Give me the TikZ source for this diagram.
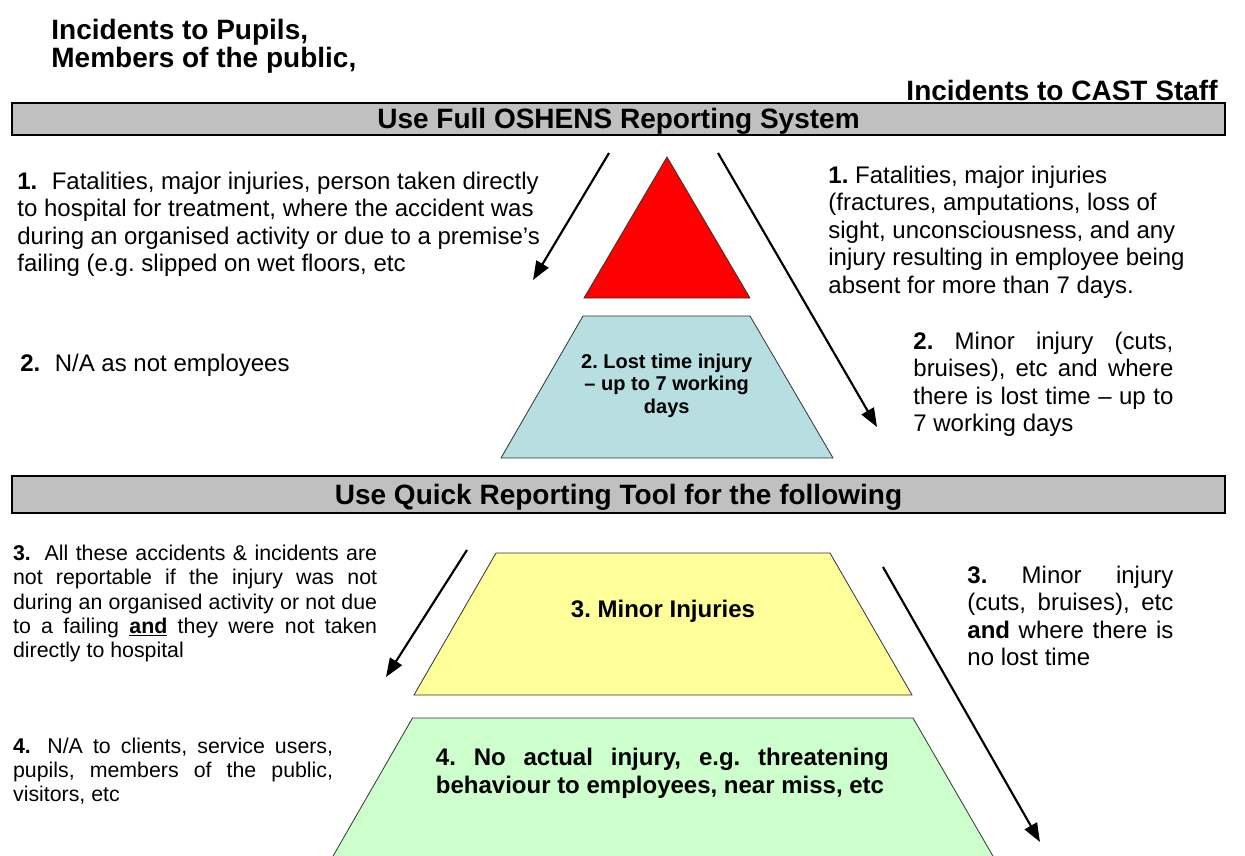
\documentclass[tikz,border=0pt]{standalone}
\usepackage{fontspec}
\setmainfont{Liberation Sans}
\usetikzlibrary{arrows.meta}
\definecolor{barGray}{HTML}{C0C0C0}
\definecolor{topRed}{HTML}{FF0000}
\definecolor{lostBlue}{HTML}{B7DEE1}
\definecolor{minorYellow}{HTML}{FFFF99}
\definecolor{nearGreen}{HTML}{CCFFCC}
\frenchspacing
\newcommand{\fullrow}[1]{\makebox[\hsize][s]{#1}}

\begin{document}
\begin{tikzpicture}[
	>={Triangle[length=14pt,width=10.5pt]},
	line width=0.6pt,
	x=0.75pt,y=-0.75pt,
	txt/.style={anchor=base west, inner sep=0pt, align=justify},
	big/.style={font=\fontsize{18}{20.7}\selectfont},
	small/.style={font=\fontsize{16}{18.2}\selectfont},
	head/.style={inner sep=0pt, font=\bfseries\fontsize{21}{20.5}\selectfont},
	bar/.style={fill=barGray, draw=black, line width=1.5pt},
	level/.style={draw=black!80, line width=0.6pt},
	pointer/.style={->, line width=1.6pt}
	]
\useasboundingbox (0,0) rectangle (1245,856);

% headings
\node[head, anchor=base west, text width=315pt, align=justify] (pupils) at (51,40)
	{Incidents to Pupils,\\Members of the public,};
\node[head, anchor=base east] (staff) at (1218,100) {Incidents to CAST Staff};

% bars
\draw[bar] (12,103) rectangle (1225,135);
\node[head, anchor=base] (oshens) at (618.5,128.5) {Use Full OSHENS Reporting System};
\draw[bar] (12,476) rectangle (1225,513);
\node[head, anchor=base] (quick) at (618.5,504) {Use Quick Reporting Tool for the following};

% pyramid levels
\filldraw[level, fill=topRed] (667,157) -- (750,298) -- (584,298) -- cycle;
\filldraw[level, fill=lostBlue] (583,316) -- (750,316) -- (833,458) -- (501,458) -- cycle;
\filldraw[level, fill=minorYellow] (496,553) -- (830,553) -- (912,695) -- (414,695) -- cycle;
\filldraw[level, fill=nearGreen] (412.5,718) -- (913,718) -- (1001,870) -- (325,870) -- cycle;

\node[anchor=base, inner sep=0pt, text width=150pt, align=justify,
	font=\bfseries\fontsize{15}{16.9}\selectfont] (lost) at (666.7,368.3)
	{\centering 2. Lost time injury\\ – up to 7 working\\ days\par};
\node[anchor=base, inner sep=0pt, font=\bfseries\fontsize{18}{20.7}\selectfont] (minor) at (663,617)
	{3. Minor Injuries};
\node[txt, text width=339.75pt, font=\bfseries\fontsize{18}{21}\selectfont] (nearmiss) at (435.5,765)
	{\fullrow{4. No actual injury, e.g. threatening}\\
	behaviour to employees, near miss, etc};

% pupils side
\node[txt, big, text width=405pt] (pupils_1) at (17,189)
	{\textbf{1.}\hspace{0.6em}Fatalities, major injuries, person taken directly\\
	to hospital for treatment, where the accident was\\
	during an organised activity or due to a premise’s\\
	failing (e.g. slipped on wet floors, etc};
\node[txt, big, text width=300pt] (pupils_2) at (20,371) {\textbf{2.}\hspace{0.6em}N/A as not employees};
\node[txt, small, text width=273pt] (pupils_3) at (12.7,560.7)
	{\fullrow{\textbf{3.}\hspace{0.3em} All these accidents \& incidents are}\\
	\fullrow{not reportable if the injury was not}\\
	\fullrow{during an organised activity or not due}\\
	\fullrow{to a failing \underline{\textbf{and}} they were not taken}\\
	directly to hospital};
\node[txt, small, text width=240pt] (pupils_4) at (12.7,753)
	{\fullrow{\textbf{4.}\hspace{0.3em} N/A to clients, service users,}\\
	\fullrow{pupils, members of the public,}\\
	visitors, etc};

% staff side
\node[txt, big, text width=285pt] (staff_1) at (828,183)
	{\textbf{1.} Fatalities, major injuries\\
	(fractures, amputations, loss of\\
	sight, unconsciousness, and any\\
	injury resulting in employee being\\
	absent for more than 7 days.};
\node[txt, big, text width=195pt] (staff_2) at (913,349)
	{\fullrow{\textbf{2.} Minor injury (cuts,}\\
	\fullrow{bruises), etc and where}\\
	\fullrow{there is lost time – up to}\\
	7 working days};
\node[txt, big, text width=154.5pt] (staff_3) at (967,583)
	{\fullrow{\textbf{3.} Minor injury}\\
	\fullrow{(cuts, bruises), etc}\\
	\fullrow{\textbf{and} where there is}\\
	no lost time};

% pointers
\coordinate (up_l_from) at (609,153);
\coordinate (up_l_to)   at (533,280);
\coordinate (up_r_from) at (718,153);
\coordinate (up_r_to)   at (877,427);
\coordinate (lo_l_from) at (467,550);
\coordinate (lo_l_to)   at (386,677);
\coordinate (lo_r_from) at (883,567);
\coordinate (lo_r_to)   at (1040,842);

\draw[pointer] (up_l_from) -- (up_l_to);
\draw[pointer] (up_r_from) -- (up_r_to);
\draw[pointer] (lo_l_from) -- (lo_l_to);
\draw[pointer] (lo_r_from) -- (lo_r_to);

\end{tikzpicture}
\end{document}
